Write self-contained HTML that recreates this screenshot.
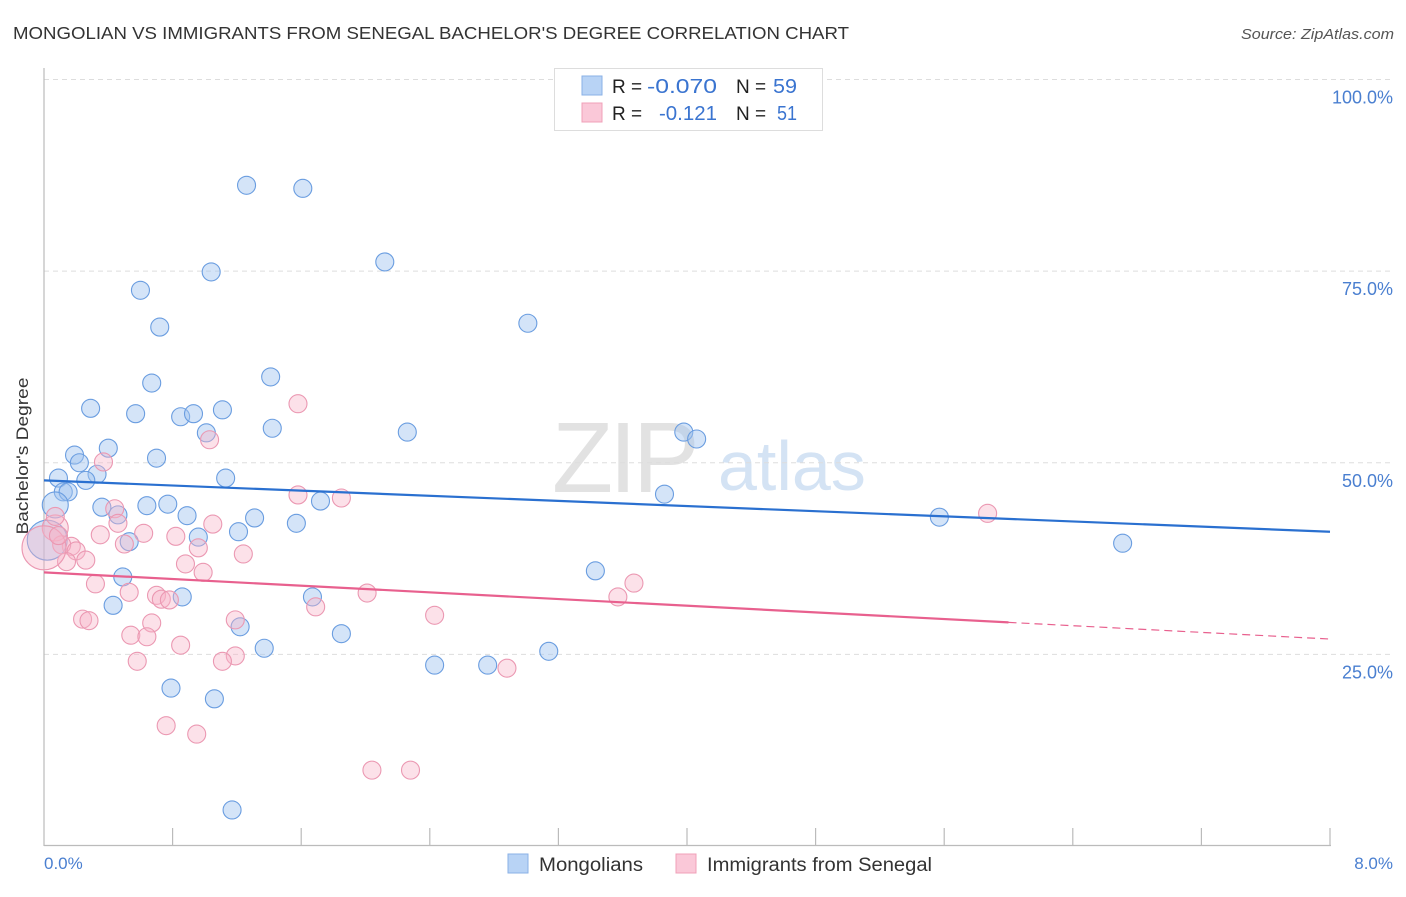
<!DOCTYPE html>
<html><head><meta charset="utf-8"><style>
body{margin:0;background:#fff;font-family:"Liberation Sans",sans-serif;}
svg text{font-family:"Liberation Sans",sans-serif;}
</style></head><body>
<svg id="c" width="1406" height="892">
<text x="13" y="39" font-size="17.5" fill="#333" textLength="836" lengthAdjust="spacingAndGlyphs">MONGOLIAN VS IMMIGRANTS FROM SENEGAL BACHELOR'S DEGREE CORRELATION CHART</text>
<text x="1394" y="39" font-size="15" fill="#555" font-style="italic" text-anchor="end" textLength="153" lengthAdjust="spacingAndGlyphs">Source: ZipAtlas.com</text>
<g>
<text x="552" y="492" font-size="100" fill="#e2e2e2" font-family="Liberation Serif,serif" letter-spacing="-4">ZIP</text>
<text x="718" y="490" font-size="70" fill="#d4e3f4">atlas</text>
</g>
<g id="grid"></g>
<line x1="44" y1="68" x2="44" y2="846" stroke="#bbb" stroke-width="1.2"/>
<line x1="44" y1="845.5" x2="1331" y2="845.5" stroke="#bbb" stroke-width="1.2"/>
<g id="ticks"></g>
<text x="28" y="456" font-size="17" fill="#333" text-anchor="middle" transform="rotate(-90 28 456)" textLength="157" lengthAdjust="spacingAndGlyphs">Bachelor's Degree</text>
<text x="44" y="869" font-size="17" fill="#4a7fd0">0.0%</text>
<text x="1393" y="869" font-size="17" fill="#4a7fd0" text-anchor="end">8.0%</text>
<g id="pts"></g>
<g id="lines"></g>
<g>
<rect x="554.5" y="68.5" width="268" height="62" fill="#fff" stroke="#ddd"/>
<rect x="582" y="76" width="20" height="19" fill="#b8d3f5" stroke="#8ab0e6"/>
<rect x="582" y="103" width="20" height="19" fill="#fac8d8" stroke="#f0a0b8"/>
<text x="612" y="93" font-size="19" fill="#222">R =</text>
<text x="647" y="93" font-size="20" fill="#3a74d0" textLength="70" lengthAdjust="spacingAndGlyphs">-0.070</text>
<text x="736" y="93" font-size="19" fill="#222">N =</text>
<text x="773" y="93" font-size="20" fill="#3a74d0" textLength="24" lengthAdjust="spacingAndGlyphs">59</text>
<text x="612" y="120" font-size="19" fill="#222">R =</text>
<text x="659" y="120" font-size="20" fill="#3a74d0" textLength="58" lengthAdjust="spacingAndGlyphs">-0.121</text>
<text x="736" y="120" font-size="19" fill="#222">N =</text>
<text x="777" y="120" font-size="20" fill="#3a74d0" textLength="20" lengthAdjust="spacingAndGlyphs">51</text>
</g>
<g>
<rect x="508" y="854" width="20" height="19" fill="#b8d3f5" stroke="#8ab0e6"/>
<text x="539" y="871" font-size="19" fill="#333" textLength="104" lengthAdjust="spacingAndGlyphs">Mongolians</text>
<rect x="676" y="854" width="20" height="19" fill="#fac8d8" stroke="#f0a0b8"/>
<text x="707" y="871" font-size="19" fill="#333" textLength="225" lengthAdjust="spacingAndGlyphs">Immigrants from Senegal</text>
</g>
</svg>
<script>
const yTicks=[25,50,75,100];
const yTickLabels=["25.0%","50.0%","75.0%","100.0%"];
const blueX=[1.26,1.61,1.04,2.12,0.60,0.72,3.01,0.67,1.41,0.29,0.57,0.85,0.93,1.11,1.01,1.42,2.26,3.98,4.06,0.40,0.19,0.70,0.22,0.33,0.09,0.26,1.13,0.12,0.15,3.86,1.72,0.64,0.77,0.36,0.46,0.89,1.31,1.57,5.57,0.07,1.21,0.96,0.53,6.71,0.02,3.43,0.49,0.43,0.86,1.67,1.22,1.85,1.37,3.14,2.43,2.76,0.79,1.06,1.17];
const blueY=[86.2,85.8,74.9,76.2,72.5,67.7,68.2,60.4,61.2,57.1,56.4,56.0,56.4,56.9,53.9,54.5,54.0,54.0,53.1,51.9,51.0,50.6,50.0,48.5,48.0,47.7,48.0,46.2,46.2,45.9,45.0,44.4,44.6,44.2,43.2,43.1,42.8,42.1,42.9,44.5,41.0,40.3,39.7,39.5,39.9,35.9,35.1,31.4,32.5,32.5,28.6,27.7,25.8,25.4,23.6,23.6,20.6,19.2,4.7];
const blueR=[9,9,9,9,9,9,9,9,9,9,9,9,9,9,9,9,9,9,9,9,9,9,9,9,9,9,9,9,9,9,9,9,9,9,9,9,9,9,9,13,9,9,9,9,20,9,9,9,9,9,9,9,9,9,9,9,9,9,9];
const pinkX=[1.58,1.03,0.37,5.87,1.58,1.85,0.44,0.46,1.05,0.07,0.35,0.62,0.82,0.17,0.11,0.20,0.50,0.96,1.24,0.26,0.14,0.88,0.99,3.67,0.32,0.53,0.70,0.73,0.78,2.01,3.57,1.69,2.43,0.24,0.28,1.19,0.67,0.54,0.64,0.85,1.19,1.11,0.58,2.88,0.76,0.95,2.04,2.28,0.0,0.07,0.09];
const pinkY=[57.7,53.0,50.1,43.4,45.8,45.4,44.0,42.1,42.0,41.5,40.6,40.8,40.4,39.1,39.3,38.5,39.4,38.9,38.1,37.3,37.1,36.8,35.7,34.3,34.2,33.1,32.7,32.2,32.1,33.0,32.5,31.2,30.1,29.6,29.4,29.5,29.1,27.5,27.3,26.2,24.8,24.1,24.1,23.2,15.7,14.6,9.9,9.9,38.9,43.0,40.5];
const pinkR=[9,9,9,9,9,9,9,9,9,13,9,9,9,9,9,9,9,9,9,9,9,9,9,9,9,9,9,9,9,9,9,9,9,9,9,9,9,9,9,9,9,9,9,9,9,9,9,9,22,9,9];
const blueTrend=[47.7,41.0];
const pinkTrend=[35.7,27.0];
const pinkSolidEnd=6.0;
const NS="http://www.w3.org/2000/svg";
const X=v=>44+v*(1286/8);
const Y=v=>846-v*7.665;
function mk(tag,attrs,parent){const e=document.createElementNS(NS,tag);for(const k in attrs)e.setAttribute(k,attrs[k]);parent.appendChild(e);return e;}
const grid=document.getElementById('grid');
yTicks.forEach((t,i)=>{
  const l=mk('line',{x1:44,x2:1394,y1:Y(t),y2:Y(t),stroke:'#ddd','stroke-dasharray':'5,4'},grid);
  
  
  const tx=mk('text',{x:1393,y:Y(t)+24,'font-size':18,fill:'#4a7fd0','text-anchor':'end'},grid);
  tx.textContent=yTickLabels[i];
  
  
});
const ticks=document.getElementById('ticks');
for(let i=1;i<=10;i++){
  const l=mk('line',{x1:X(i*0.8),x2:X(i*0.8),y1:828,y2:846,stroke:'#bbb','stroke-width':1.2},ticks);
  
  
}
const pts=document.getElementById('pts');
blueX.forEach((x,i)=>{
  const c=mk('circle',{cx:X(x),cy:Y(blueY[i]),r:blueR[i],fill:'rgba(160,196,240,0.45)',stroke:'#6a9de0','stroke-width':1.1},pts);
  
  
});
pinkX.forEach((x,i)=>{
  const c=mk('circle',{cx:X(x),cy:Y(pinkY[i]),r:pinkR[i],fill:'rgba(248,180,200,0.4)',stroke:'#eb98b2','stroke-width':1.1},pts);
  
  
});
const lines=document.getElementById('lines');
const bl=mk('line',{x1:X(0),y1:Y(blueTrend[0]),x2:X(8),y2:Y(blueTrend[1]),stroke:'#2a70d0','stroke-width':2.2},lines);


const pf=x=>pinkTrend[0]+(pinkTrend[1]-pinkTrend[0])*x/8;
const pl=mk('line',{x1:X(0),y1:Y(pf(0)),x2:X(pinkSolidEnd),y2:Y(pf(pinkSolidEnd)),stroke:'#e8608e','stroke-width':2.2},lines);


const pd=mk('line',{x1:X(pinkSolidEnd),y1:Y(pf(pinkSolidEnd)),x2:X(8),y2:Y(pf(8)),stroke:'#e8608e','stroke-width':1.2,'stroke-dasharray':'8,5'},lines);


</script>
</body></html>
